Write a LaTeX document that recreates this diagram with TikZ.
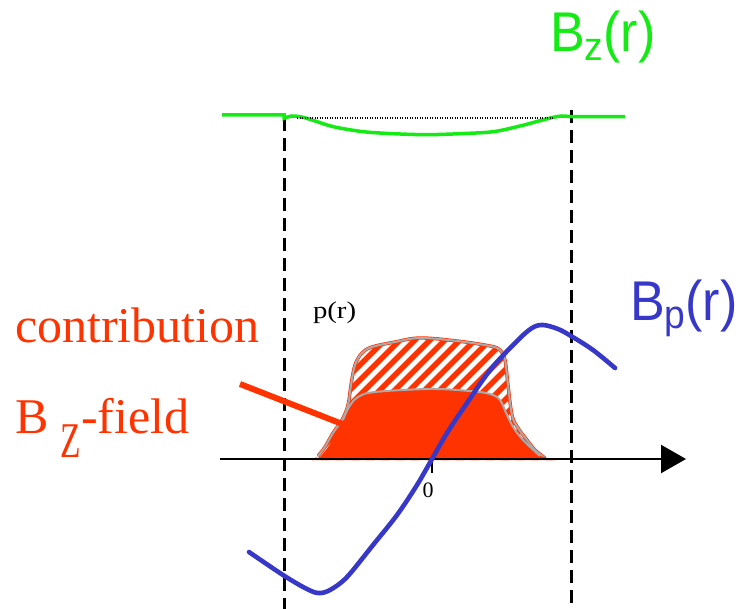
\documentclass[tikz,border=0pt]{standalone}
\usepackage{fontspec}
\setmainfont{Liberation Serif}
\newfontfamily\arialf{Liberation Sans}
\usetikzlibrary{arrows.meta}
\definecolor{bzgreen}{RGB}{20,235,20}
\definecolor{bpblue}{RGB}{55,55,200}
\definecolor{redc}{RGB}{255,51,0}
\definecolor{outl}{RGB}{170,170,170}
\begin{document}
\begin{tikzpicture}[x=1pt,y=-1pt,
  vline/.style={line width=3pt, dash pattern=on 13pt off 7pt},
  axisline/.style={line width=2.2pt, -{Triangle[length=25pt,width=28pt]}},
  bzline/.style={bzgreen, line width=3.5pt},
  bpline/.style={bpblue, line width=4.6pt, line cap=round},
  hatchline/.style={redc, line width=5.5pt},
  ptr/.style={redc, line width=6pt},
  lbl/.style={inner sep=0pt, outer sep=0pt},
  redtxt/.style={lbl, text=redc, font=\fontsize{50}{55}\selectfont},
  bigsans/.style={lbl, font=\arialf\fontsize{56}{60}\selectfont},
  smalltxt/.style={lbl, font=\fontsize{24}{27}\selectfont}]
\useasboundingbox (0,0) rectangle (743,609);

% hatched contribution region
\begin{scope}
  \clip (312,460) -- plot[smooth,tension=0.6] coordinates {(318,456) (325,447) (333,433) (342,420) (348,405) (351,385) (355,365) (362,353) (372,347) (395,342) (420,338) (457,341) (490,346) (500,350) (505,360) (508,385) (512,415) (518,428) (527,440) (535,450) (545,458)} -- (556,460) -- cycle;
  \foreach \i in {0,...,27} \draw[hatchline] ({175+15*\i},475) -- ++(160,-160);
\end{scope}
\draw[redc, line width=3.4pt] plot[smooth,tension=0.6] coordinates {(318,456) (325,447) (333,433) (342,420) (348,405) (351,385) (355,365) (362,353) (372,347) (395,342) (420,338) (457,341) (490,346) (500,350) (505,360) (508,385) (512,415) (518,428) (527,440) (535,450) (545,458)};
\draw[outl, line width=2pt] plot[smooth,tension=0.6] coordinates {(318,456) (325,447) (333,433) (342,420) (348,405) (351,385) (355,365) (362,353) (372,347) (395,342) (420,338) (457,341) (490,346) (500,350) (505,360) (508,385) (512,415) (518,428) (527,440) (535,450) (545,458)};

% filled Bz-field region
\fill[redc] (312,460) -- plot[smooth,tension=0.6] coordinates {(320,457) (328,447) (336,435) (343,420) (349,407) (358,397) (375,392) (430,389) (470,391) (490,394) (500,400) (507,415) (515,430) (525,442) (540,456)} -- (556,460) -- cycle;
\draw[outl, line width=2pt] plot[smooth,tension=0.6] coordinates {(343,420) (349,407) (358,397) (375,392) (430,389) (470,391) (490,394) (500,400) (507,415) (515,430) (525,442) (540,456)};

% dashed verticals
\coordinate (la) at (284,118); \coordinate (lb) at (284,609);
\coordinate (ra) at (571,110); \coordinate (rb) at (571,609);
\draw[vline] (la) -- (lb);
\draw[vline] (ra) -- (rb);

% axis and tick
\coordinate (ax1) at (220,459); \coordinate (ax2) at (686,459);
\draw[axisline] (ax1) -- (ax2);
\coordinate (t1) at (432,459); \coordinate (t2) at (432,473);
\draw[line width=1.8pt] (t1) -- (t2);
\node[smalltxt, anchor=base] (zero) at (428,497) {\fontsize{22}{24}\selectfont 0};

% Bz curve
\draw[bzline] (222,115) -- (284,115) -- plot[smooth] coordinates {(284,118.3) (291.7,116) (300,116.7) (310,119.3) (333.3,126.7) (363.3,131.7) (393.3,133.7) (426.7,134.7) (460,133.7) (493.3,131.7) (520,126) (540,120.7) (553.3,117.3) (561.7,116) (571.7,116.7)} -- (625,116.7);
\coordinate (d1) at (297,118); \coordinate (d2) at (553,118);
\draw[line width=1.2pt, dash pattern=on 1pt off 1.5pt] (d1) -- (d2);

% Bp curve
\draw[bpline] plot[smooth,tension=0.55] coordinates {(249,552) (283,575) (305,588) (318,593) (330,590) (347,577) (373,545) (397,515) (417,485) (432,459) (447,433) (467,403) (491,369) (517,341) (532,328) (543,325) (558,329) (571,336) (593,350) (615,368)};

% pointer
\coordinate (p1) at (240,384); \coordinate (p2) at (350,427);
\draw[ptr] (p1) -- (p2);

% labels
\node[redtxt, anchor=base west] (contrib) at (15,342) {contribution};
\node[redtxt, anchor=base west] (bzfield) at (15,433) {B\hspace{0.25em}\raisebox{-24pt}{\scalebox{0.67}[1]{Z}}-field};
\node[smalltxt, anchor=base west] (pr) at (313,318) {\scalebox{1.2}[1]{p(r)}};
\node[bigsans, text=bzgreen, anchor=base west] (bzlab) at (550,52) {\scalebox{0.93}[1]{B\raisebox{-9pt}{\fontsize{40}{40}\selectfont z}(r)}};
\node[bigsans, text=bpblue, anchor=base west] (bplab) at (630,320) {\scalebox{0.93}[1]{B\raisebox{-8pt}{\fontsize{40}{40}\selectfont p}(r)}};
\end{tikzpicture}
\end{document}
